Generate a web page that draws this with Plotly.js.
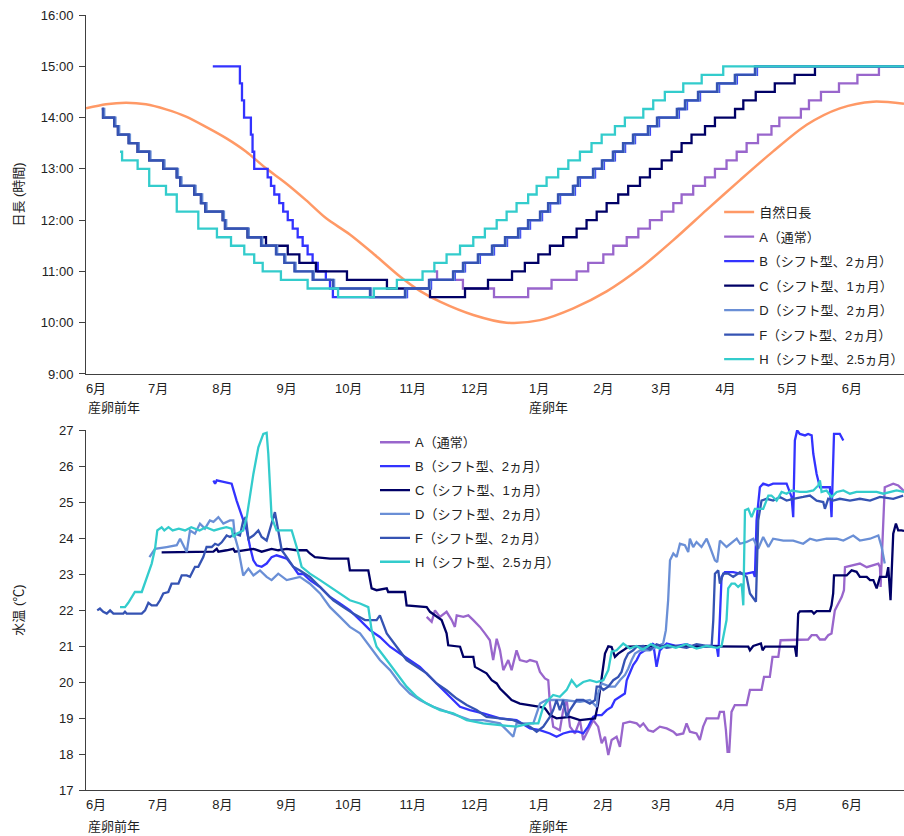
<!DOCTYPE html>
<html>
<head>
<meta charset="utf-8">
<script src="https://cdn.plot.ly/plotly-3.0.1.min.js"></script>
<style>html,body{margin:0;padding:0;background:#fff;}#chart{width:904px;height:836px;}</style>
</head>
<body>
<div id="chart"></div>
<script>
// x values: days since 1 June of the year before spawning (産卵前年 6月1日 = 0)
const monthDays   = [0, 30, 61, 92, 122, 153, 183, 214, 245, 273, 304, 334, 365];
const monthLabels = ['6月','7月','8月','9月','10月','11月','12月','1月','2月','3月','4月','5月','6月'];
const yearLabels  = ['産卵前年', '産卵年'];
const hourTicks   = [9, 10, 11, 12, 13, 14, 15, 16];
const hourLabels  = ['9:00','10:00','11:00','12:00','13:00','14:00','15:00','16:00'];
const tempTicks   = [17, 18, 19, 20, 21, 22, 23, 24, 25, 26, 27];
const seriesNames = ['A（通常）','B（シフト型、2ヵ月）','C（シフト型、1ヵ月）','D（シフト型、2ヵ月）','F（シフト型、2ヵ月）','H（シフト型、2.5ヵ月）'];
const naturalName = '自然日長';

// ---- Day length (top) ----
const natDays  = [-4.8, 4.8, 14.5, 24.1, 33.8, 43.5, 53.1, 62.8, 72.4, 82.1, 91.7, 101.4, 111, 122.6, 134.7, 146.8, 156.4, 166.1, 182.2, 198.3, 214.4, 230.5, 246.6, 262.7, 278.8, 294.9, 311, 327, 343.2, 359.2, 375.3, 390.2];
const natHours = [14.18, 14.26, 14.29, 14.26, 14.16, 14.02, 13.82, 13.60, 13.34, 13.01, 12.72, 12.39, 12.04, 11.72, 11.32, 10.90, 10.62, 10.41, 10.15, 10.0, 10.05, 10.28, 10.61, 11.06, 11.61, 12.20, 12.78, 13.34, 13.86, 14.18, 14.31, 14.27];

const aDays = [163.2, 164.7, 177.2, 192.2, 208.7, 220, 232.1, 237.7, 245, 249.8, 256.3, 261.9, 267.5, 273.2, 278.8, 282.8, 288.4, 294.1, 298.9, 304.5, 309.4, 314.2, 319.7, 326.2, 330, 340.4, 344.3, 350.1, 358.8, 367.7, 378.1, 390.2];
const aLen  = ['11:00','10:50','10:40','10:30','10:40','10:50','11:00','11:10','11:20','11:30','11:40','11:50','12:00','12:10','12:20','12:30','12:40','12:50','13:00','13:10','13:20','13:30','13:40','13:50','14:00','14:10','14:20','14:30','14:40','14:50','15:00','15:00'];

const bDays = [56.4, 69.5, 70.5, 71.5, 74.8, 75.6, 76.4, 82.9, 84.5, 86.1, 88.5, 90.4, 92.6, 95, 97.4, 99.8, 102.2, 104.6, 107.1, 111, 113, 114.4, 150.2, 161.8, 173.3, 178.2, 185.4, 192.2, 198.5, 204.8, 209.6, 215.4, 219.3, 224.1, 231.3, 233.7, 241, 245.3, 250.6, 255.5, 260.3, 267.5, 271.9, 281.5, 285.4, 291.7, 300.9, 309.5, 319.2, 390.2];
const bLen  = ['15:00','14:40','14:20','14:00','13:40','13:20','13:00','12:50','12:40','12:30','12:20','12:10','12:00','11:50','11:40','11:30','11:20','11:10','11:00','10:50','10:40','10:30','10:40','10:50','11:00','11:10','11:20','11:30','11:40','11:50','12:00','12:10','12:20','12:30','12:40','12:50','13:00','13:10','13:20','13:30','13:40','13:50','14:00','14:10','14:20','14:30','14:40','14:50','15:00','15:00'];

const cDays = [2.8, 3.4, 8.8, 10.6, 15.8, 20.1, 25.7, 32.5, 39, 40.7, 47.5, 50.7, 52.8, 61.2, 62.3, 73.2, 82.1, 92.6, 98.2, 106.2, 121.2, 140.5, 161.3, 178.2, 189.3, 200.9, 207.1, 213.6, 219.2, 225.6, 232.1, 236.9, 241.8, 246.6, 252.2, 257, 262.7, 267.5, 273.2, 278, 282.8, 287.6, 294.1, 298.9, 308.6, 312.6, 318.6, 327.8, 337.4, 347.2, 390.2];
const cLen  = ['14:10','14:00','13:50','13:40','13:30','13:20','13:10','13:00','12:50','12:40','12:30','12:20','12:10','12:00','11:50','11:40','11:30','11:20','11:10','11:00','10:50','10:40','10:30','10:40','10:50','11:00','11:10','11:20','11:30','11:40','11:50','12:00','12:10','12:20','12:30','12:40','12:50','13:00','13:10','13:20','13:30','13:40','13:50','14:00','14:10','14:20','14:30','14:40','14:50','15:00','15:00'];

const dDays = [3.4, 4.0, 9.4, 11.2, 16.4, 20.7, 26.3, 33.1, 39.6, 41.3, 48.1, 51.3, 53.4, 61.8, 62.9, 73.8, 80.3, 87.5, 91.5, 96.4, 105.2, 115.0, 132.9, 149.8, 161.4, 173.0, 177.8, 185.0, 191.8, 198.1, 204.4, 209.2, 215.0, 218.9, 223.7, 230.9, 233.3, 240.6, 244.9, 250.2, 255.1, 259.9, 267.1, 271.5, 281.1, 285.0, 291.3, 300.5, 309.1, 318.8, 390.2];
const dLen  = ['14:10','14:00','13:50','13:40','13:30','13:20','13:10','13:00','12:50','12:40','12:30','12:20','12:10','12:00','11:50','11:40','11:30','11:20','11:10','11:00','10:50','10:40','10:30','10:40','10:50','11:00','11:10','11:20','11:30','11:40','11:50','12:00','12:10','12:20','12:30','12:40','12:50','13:00','13:10','13:20','13:30','13:40','13:50','14:00','14:10','14:20','14:30','14:40','14:50','15:00','15:00'];

const fDays = [2.8, 3.4, 8.8, 10.6, 15.8, 20.1, 25.7, 32.5, 39, 40.7, 47.5, 50.7, 52.8, 61.2, 62.3, 73.2, 79.7, 86.9, 90.9, 95.8, 104.6, 114.4, 132.3, 149.2, 160.8, 172.4, 177.2, 184.4, 191.2, 197.5, 203.8, 208.6, 214.4, 218.3, 223.1, 230.3, 232.7, 240, 244.3, 249.6, 254.5, 259.3, 266.5, 270.9, 280.5, 284.4, 290.7, 299.9, 308.5, 318.2, 390.2];
const fLen  = ['14:10','14:00','13:50','13:40','13:30','13:20','13:10','13:00','12:50','12:40','12:30','12:20','12:10','12:00','11:50','11:40','11:30','11:20','11:10','11:00','10:50','10:40','10:30','10:40','10:50','11:00','11:10','11:20','11:30','11:40','11:50','12:00','12:10','12:20','12:30','12:40','12:50','13:00','13:10','13:20','13:30','13:40','13:50','14:00','14:10','14:20','14:30','14:40','14:50','15:00','15:00'];

const hDays = [11.6, 12.6, 20.1, 25.7, 33.8, 39, 49.4, 58.4, 65.2, 71.6, 76.4, 80.5, 89.3, 102.2, 116.9, 134.2, 145.3, 157.7, 163.4, 169.3, 175.8, 182.2, 187.8, 193.5, 198.3, 203.1, 208.7, 212.8, 217.6, 223.2, 228.1, 233.7, 239.3, 244.2, 250.6, 255.4, 264.3, 269.1, 274.7, 283.6, 292.5, 302.9, 390.2];
const hLen  = ['13:20','13:10','13:00','12:40','12:30','12:10','11:50','11:40','11:30','11:20','11:10','11:00','10:50','10:40','10:30','10:40','10:50','11:00','11:10','11:20','11:30','11:40','11:50','12:00','12:10','12:20','12:30','12:40','12:50','13:00','13:10','13:20','13:30','13:40','13:50','14:00','14:10','14:20','14:30','14:40','14:50','15:00','15:00'];

// ---- Water temperature (bottom) ----
const aTDays = [159.7,162.1,163.7,166.1,169.3,171.8,173.3,174.2,177.4,179.8,182.2,185.4,187.8,190.2,191.8,193.5,195.1,196.7,199.1,200.7,203.1,204.7,208.0,209.6,212.8,214.4,216.8,218.4,219.2,220.8,224.0,225.6,227.3,228.9,231.3,233.7,235.3,240.1,242.5,244.2,245.8,247.4,249.0,251.4,253.0,254.6,257.8,261.1,262.7,264.3,266.7,269.1,272.3,275.6,278.8,280.4,283.6,285.2,286.8,290.0,291.6,293.2,294.9,300.5,301.3,303.2,304.2,305.0,305.8,306.9,308.5,314.2,315.8,321.4,322.6,325.4,326.7,329.5,330.6,338.3,343.9,345.6,348.0,349.6,352.0,353.6,355.2,356.8,358.5,360.1,361.2,361.7,368.9,372.2,377.8,378.6,378.9,380.9,385.0,387.4,389.0,390.2];
const aTemp  = [21.81,21.67,21.99,21.81,21.95,21.72,21.53,21.85,21.81,21.85,21.72,21.53,21.35,21.16,20.61,21.2,20.88,20.33,20.61,20.33,20.88,20.61,20.56,20.61,20.56,20.28,20.1,20.05,19.4,18.76,18.66,19.22,19.5,18.76,18.57,18.94,18.39,18.94,18.76,18.3,18.48,17.97,18.39,18.48,18.2,18.85,18.9,18.85,18.76,18.85,18.66,18.62,18.76,18.71,18.62,18.53,18.57,18.85,18.62,18.57,18.39,18.76,18.99,18.99,19.17,19.17,18.66,18.06,18.06,19.17,19.36,19.36,19.78,19.78,20.14,20.14,20.7,20.7,21.16,21.16,21.18,21.3,21.3,21.18,21.18,21.3,21.35,21.99,22.18,22.36,22.55,23.19,23.29,23.19,23.29,23.19,22.64,25.41,25.51,25.46,25.37,25.3];

const bTDays = [56.7,57.5,58.3,65.5,67.9,71.1,72.8,74.4,76.0,77.6,80.0,82.4,84.8,87.2,89.7,92.1,95.3,97.7,100.1,103.3,108.2,113.0,117.8,122.6,127.5,132.3,137.1,142.0,146.8,151.6,156.4,161.3,166.1,170.9,175.8,180.6,187.0,195.1,203.1,209.6,214.4,219.2,222.4,225.6,228.9,232.9,235.3,237.7,240.1,241.8,244.2,246.6,249.0,250.6,253.0,255.4,256.3,257.8,259.4,261.1,262.7,265.1,269.1,270.7,272.3,275.6,280.4,285.2,290.0,294.9,299.7,300.5,301.3,302.1,303.7,307.7,311.0,314.2,317.4,318.2,319.0,320.6,322.2,324.7,327.0,330.3,333.5,335.9,336.7,337.5,338.6,339.9,342.4,343.9,345.6,346.4,348.0,349.6,351.2,354.4,355.2,356.4,359.2,360.9];
const bTemp  = [25.6,25.51,25.6,25.51,25.04,24.49,24.21,23.75,23.38,23.24,23.2,23.29,23.47,23.52,23.47,23.43,23.2,23.0,23.0,22.83,22.64,22.36,22.18,21.99,21.72,21.44,21.25,20.98,20.79,20.61,20.42,20.14,19.87,19.59,19.31,19.22,19.13,18.99,18.94,18.71,18.66,18.57,18.48,18.57,18.62,18.62,18.57,18.76,19.03,19.08,19.08,19.22,19.31,19.5,19.59,19.68,20.05,20.24,20.47,20.61,20.79,20.88,21.07,20.42,20.88,21.07,21.0,21.05,20.95,21.0,21.0,20.7,21.72,22.92,23.05,23.05,23.01,23.01,23.05,22.92,24.49,25.41,25.51,25.46,25.51,25.51,25.51,25.14,24.58,26.71,26.99,26.89,26.85,26.89,26.85,26.34,25.78,25.41,25.41,25.41,24.58,26.89,26.89,26.71];

const cTDays = [31.7,40,50,56.7,58.3,59.1,63.1,66.3,67.1,72.8,76,80,84.8,88,92.1,96.9,101.7,103.3,105.7,113.0,121.8,122.6,131.5,133.1,135.5,140.4,141.1,149.2,150.0,159.7,161.3,166.9,169.3,170.1,175.8,177.4,182.2,183.0,186.2,188.6,191.1,193.5,195.1,197.5,200.7,204.7,209.6,214.4,216.8,219.2,222.4,228.9,233.7,241.0,242.5,244.2,245.8,247.4,249.0,250.6,252.2,254.6,257.0,270,285,299.7,315.0,315.8,317.4,321.1,321.9,323.1,337.5,338.3,339.1,339.9,345.6,346.7,348.0,354.4,355.2,356.0,356.4,359.2,362.5,364.9,367.3,368.9,372.2,373.8,375.4,377.0,378.6,381.7,382.6,383.7,385.0,386.3,387.4,389.0,390.2];
const cTemp  = [23.6,23.6,23.6,23.62,23.7,23.62,23.66,23.7,23.62,23.66,23.7,23.62,23.7,23.66,23.7,23.66,23.66,23.57,23.47,23.43,23.43,23.1,23.1,22.6,22.55,22.6,22.5,22.5,22.13,22.08,21.95,21.72,21.35,21.02,20.98,20.7,20.7,20.42,20.33,20.24,20.05,19.96,19.82,19.68,19.5,19.4,19.36,19.31,19.27,19.08,18.99,19.03,18.94,18.99,19.4,20.14,20.79,20.99,20.97,20.7,20.79,20.88,20.98,21.0,21.0,20.98,20.98,20.88,21.0,21.07,20.88,20.98,20.98,20.7,21.9,21.96,21.97,21.9,21.97,21.97,22.13,22.46,22.96,22.96,22.96,23.1,23.06,22.92,22.92,22.83,22.83,22.6,22.92,22.92,23.19,22.27,24.12,24.4,24.21,24.21,24.2];

const dTDays = [25.8,28.5,34.1,39.0,40.6,43.8,45.4,47.8,50.2,52.6,55.0,56.7,59.1,61.5,64.7,66.3,67.1,68.7,71.1,73.6,76.0,79.2,82.4,84.8,88.0,92.1,98.5,103.3,108.2,113.0,117.8,122.6,127.5,132.3,137.1,142.0,146.8,151.6,156.4,162.9,169.3,175.8,180.6,187.0,195.1,201.5,203.1,211.2,214.4,217.6,225.6,233.7,238.5,241.8,242.5,244.2,248.2,250.6,253.0,255.4,257.0,258.7,260.3,262.7,267.5,273.9,275.2,276.3,277.2,278.8,280.4,282.0,284.4,286.0,286.8,288.4,290.0,292.4,294.9,296.5,298.9,300.0,301.3,304.5,309.4,311.0,314.2,317.4,319.8,322.2,324.7,327.0,331.9,336.7,341.5,344.8,348.0,352.8,357.7,360.9,365.7,368.9,373.8,377.8,379.4,380.9];
const dTemp  = [23.47,23.7,23.75,23.8,23.98,23.61,24.21,24.12,24.4,24.26,24.49,24.45,24.58,24.4,24.49,24.49,24.03,23.7,22.96,23.15,22.96,23.1,22.92,22.83,23.01,22.83,22.92,22.73,22.46,22.08,21.81,21.53,21.35,20.98,20.61,20.33,19.96,19.68,19.5,19.31,19.17,19.03,18.94,18.94,18.85,18.48,18.85,18.85,19.4,19.5,19.5,19.45,19.5,19.31,19.68,19.96,19.87,19.87,20.05,20.19,20.37,20.61,20.79,20.88,20.88,21.07,21.44,22.27,23.38,23.57,23.47,23.84,23.8,23.61,23.98,23.75,23.89,23.75,23.98,23.75,23.38,23.33,23.93,23.75,23.98,23.84,23.89,23.98,23.7,24.03,23.75,23.98,23.93,23.93,23.84,23.98,23.93,23.98,23.98,23.93,24.07,23.93,23.98,24.07,23.75,23.29];

const fTDays = [0.6,1.9,3.5,5.2,6.8,8.4,13.2,14.0,14.8,22.1,23.7,25.3,26.9,29.3,30.9,32.5,34.9,36.5,39.8,41.4,43.8,45.4,47.8,49.4,51.8,53.4,55.9,57.5,59.1,60.7,63.1,64.7,67.1,69.5,71.1,72.3,73.6,76.0,78.4,80.0,82.4,84.8,86.4,88.0,89.7,92.1,95.3,98.5,103.3,108.2,114.6,119.4,124.2,129.9,135.5,137.1,140.4,145.2,150.0,154.9,159.7,164.5,169.3,174.2,179.0,183.8,188.6,195.1,201.5,209.6,212.8,216.0,219.2,220.8,222.4,224.0,225.6,227.3,228.9,232.1,235.3,238.5,241.0,241.8,243.4,245.0,247.4,249.8,252.2,253.8,255.4,257.0,259.4,261.1,264.3,267.5,270.7,275.6,280.4,285.2,290.0,294.9,297.3,298.1,298.9,300.5,301.3,302.9,305.3,307.7,311.0,314.2,315.8,318.7,319.8,321.4,323.9,327.0,330.3,333.5,336.7,341.5,344.8,348.0,351.2,352.0,353.6,356.0,359.2,364.1,368.9,373.8,378.6,385.0,389.8];
const fTemp  = [21.99,22.04,21.95,21.9,21.99,21.9,21.9,21.95,21.9,21.9,21.99,22.2,22.13,22.13,22.27,22.46,22.5,22.73,22.73,22.96,22.96,22.92,23.2,23.2,23.47,23.75,23.75,23.84,23.8,23.88,24.07,24.03,24.12,24.07,24.49,24.58,23.98,24.07,24.21,24.03,23.93,24.4,24.72,24.21,23.66,23.47,23.2,23.1,22.92,22.64,22.27,22.08,21.9,21.72,21.72,21.85,21.35,20.98,20.61,20.42,20.24,19.96,19.77,19.54,19.36,19.22,19.03,18.99,18.94,18.76,18.62,18.76,19.03,19.22,19.5,19.22,19.5,19.03,19.22,19.5,19.5,19.4,19.5,19.87,19.87,19.78,19.87,20.05,20.14,20.28,20.61,20.79,20.88,20.98,21.0,20.9,21.05,20.95,21.0,20.95,21.05,21.0,21.0,21.72,23.01,23.1,22.73,23.01,23.01,22.92,23.05,22.92,22.46,22.23,24.49,25.04,25.09,25.04,25.14,25.04,25.09,25.14,25.18,25.04,25.0,24.81,25.09,25.04,25.09,25.04,25.09,25.04,25.14,25.09,25.18];

const hTDays = [11.6,14.0,15.6,18.8,22.1,24.5,26.9,28.5,29.6,31.7,33,35,37,40,43,46,50,53,57,60,63,65.5,66.3,67.9,71.1,72.8,76.0,78.4,80.8,82.4,83.2,84.8,87.2,94.5,96.9,99.3,103.3,108.2,113.0,117.8,122.6,127.5,131.5,133.1,135.5,140.4,145.2,150.0,154.9,159.7,166.1,172.5,179.0,187.0,195.1,203.1,209.6,213.6,216.0,218.4,220.8,224.0,227.3,229.7,232.1,235.3,238.5,241.8,245.0,247.4,249.0,251.4,254.6,257.8,261,264,268,272,276,280,285,290,295,300,302.1,304.5,305.3,306.9,308.5,310.1,311.8,312.6,313.4,315.0,316.6,318.2,322.2,324.7,326.2,328.7,331.1,333.5,335.9,339.9,343.2,346.4,348.8,349.6,350.4,352.8,355.2,357.7,360.9,364.1,367.3,370.5,373.8,377.0,380.2,383.4,386.6,390.2];
const hTemp  = [22.08,22.08,22.2,22.5,22.5,22.92,23.29,23.7,24.21,24.3,24.21,24.3,24.21,24.26,24.21,24.3,24.21,24.3,24.21,24.26,24.3,24.26,24.03,24.12,24.21,24.58,25.78,26.52,26.89,26.92,26.34,24.58,24.21,24.21,23.75,23.2,23.01,22.83,22.64,22.46,22.27,22.18,22.08,21.44,20.98,20.61,20.24,19.87,19.59,19.4,19.22,19.13,18.94,18.85,18.8,18.76,18.85,18.85,19.31,19.5,19.64,19.59,19.78,20.05,19.87,20.0,20.05,20.0,20.05,20.33,20.84,20.88,21.07,20.93,21.0,20.9,21.05,20.93,21.02,20.95,21.05,20.93,21.0,20.95,21.0,21.72,22.6,22.73,22.73,22.64,22.73,22.13,24.77,24.81,24.58,24.81,24.81,25.18,25.18,25.04,25.28,25.23,25.32,25.28,25.28,25.32,25.46,25.6,25.28,25.32,25.14,25.28,25.32,25.23,25.28,25.28,25.28,25.28,25.23,25.28,25.32,25.28];

// ---- styling ----
const FONT = "'Liberation Sans', Arial, 'Noto Sans CJK JP', sans-serif";
const colors = ['#9966CC', '#3333FF', '#000066', '#6A8FD6', '#3553B3', '#33CCCC'];
const natColor = '#FF9966';
const AXIS = '#404040';

function toHours(s) { const p = s.split(':'); return Number(p[0]) + Number(p[1]) / 60; }

const topDays = [aDays, bDays, cDays, dDays, fDays, hDays];
const topLen  = [aLen, bLen, cLen, dLen, fLen, hLen];
const botDays = [aTDays, bTDays, cTDays, dTDays, fTDays, hTDays];
const botTemp = [aTemp, bTemp, cTemp, dTemp, fTemp, hTemp];

const traces = [];
traces.push({
  type: 'scatter', mode: 'lines', name: naturalName, x: natDays, y: natHours,
  xaxis: 'x', yaxis: 'y', legend: 'legend', legendgroup: 'tn',
  line: {color: natColor, width: 2.5, shape: 'spline', smoothing: 0.8}
});
for (let i = 0; i < 6; i++) {
  traces.push({
    type: 'scatter', mode: 'lines', name: seriesNames[i], x: topDays[i], y: topLen[i].map(toHours),
    xaxis: 'x', yaxis: 'y', legend: 'legend', legendgroup: 't' + i,
    line: {color: colors[i], width: 2.3, shape: 'hv'}
  });
}
for (let i = 0; i < 6; i++) {
  traces.push({
    type: 'scatter', mode: 'lines', name: seriesNames[i], x: botDays[i], y: botTemp[i],
    xaxis: 'x2', yaxis: 'y2', legend: 'legend2', legendgroup: 'b' + i,
    line: {color: colors[i], width: 2.3}
  });
}

const xCommon = {
  range: [-4.83, 390.2], tickmode: 'array', tickvals: monthDays, ticktext: monthLabels,
  showline: true, linecolor: AXIS, linewidth: 1, ticks: '', showgrid: false, zeroline: false,
  tickfont: {family: FONT, size: 13, color: '#222'}, ticklabelstandoff: 2
};
const yCommon = {
  showline: true, linecolor: AXIS, linewidth: 1, ticks: 'outside', ticklen: 6, tickcolor: AXIS,
  showgrid: false, zeroline: false, tickfont: {family: FONT, size: 13, color: '#222'}, ticklabelstandoff: 3
};
const legendCommon = {
  xanchor: 'left', yanchor: 'top', bgcolor: 'rgba(0,0,0,0)', borderwidth: 0,
  font: {family: FONT, size: 13, color: '#222'}, itemwidth: 30
};

const layout = {
  width: 904, height: 836,
  margin: {l: 86, r: 0, t: 15, b: 46, autoexpand: false},
  paper_bgcolor: '#ffffff', plot_bgcolor: '#ffffff',
  font: {family: FONT, size: 13, color: '#222'},
  showlegend: true,
  xaxis: Object.assign({}, xCommon, {anchor: 'y', domain: [0, 1]}),
  yaxis: Object.assign({}, yCommon, {anchor: 'x', domain: [0.5368, 1], range: [9, 16],
    tickmode: 'array', tickvals: hourTicks, ticktext: hourLabels,
    title: {text: '日長 (時間)', font: {family: FONT, size: 13, color: '#222'}, standoff: 14}}),
  xaxis2: Object.assign({}, xCommon, {anchor: 'y2', domain: [0, 1]}),
  yaxis2: Object.assign({}, yCommon, {anchor: 'x2', domain: [0, 0.4645], range: [17, 27],
    tickmode: 'array', tickvals: tempTicks,
    title: {text: '水温 (℃)', font: {family: FONT, size: 13, color: '#222'}, standoff: 32}}),
  legend: Object.assign({}, legendCommon, {x: 0.774, y: 0.765, tracegroupgap: 4.6}),
  legend2: Object.assign({}, legendCommon, {x: 0.3533, y: 0.468, tracegroupgap: 4}),
  annotations: [
    {xref: 'x', yref: 'y domain', x: -4.83, y: 0, xanchor: 'left', yanchor: 'middle', yshift: -34, text: yearLabels[0], showarrow: false, font: {family: FONT, size: 13, color: '#222'}},
    {xref: 'x', yref: 'y domain', x: 208.1, y: 0, xanchor: 'left', yanchor: 'middle', yshift: -34, text: yearLabels[1], showarrow: false, font: {family: FONT, size: 13, color: '#222'}},
    {xref: 'x2', yref: 'y2 domain', x: -4.83, y: 0, xanchor: 'left', yanchor: 'middle', yshift: -36, text: yearLabels[0], showarrow: false, font: {family: FONT, size: 13, color: '#222'}},
    {xref: 'x2', yref: 'y2 domain', x: 208.1, y: 0, xanchor: 'left', yanchor: 'middle', yshift: -36, text: yearLabels[1], showarrow: false, font: {family: FONT, size: 13, color: '#222'}}
  ]
};

Plotly.newPlot('chart', traces, layout, {displayModeBar: false, staticPlot: true});
</script>
</body>
</html>
